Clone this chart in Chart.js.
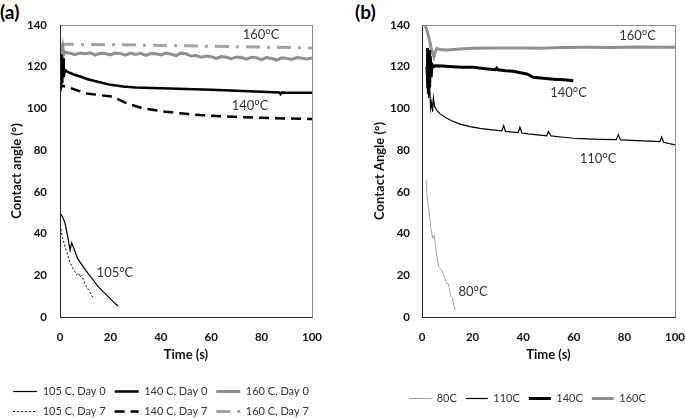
<!DOCTYPE html>
<html>
<head>
<meta charset="utf-8">
<script src="https://cdn.jsdelivr.net/npm/chart.js@4.4.1/dist/chart.umd.min.js"></script>
<style>
  html, body { margin: 0; padding: 0; background: #fff; }
  body { width: 685px; height: 418px; position: relative; overflow: hidden; font-family: Lato, sans-serif; }
  canvas { position: absolute; top: 0; }
  .panel { position: absolute; top: 0; font: bold 19px Lato, sans-serif; color: #000; line-height: 24px; }
</style>
</head>
<body>
<div class="panel" style="left:0">(a)</div>
<div class="panel" style="left:355px">(b)</div>
<canvas id="chartA" width="322" height="427" style="left:0"></canvas>
<canvas id="chartB" width="315" height="414" style="left:370px"></canvas>
<script>
// ---- panel (a): different drying temperatures, day 0 vs day 7 ----
const a105d0T = [0, 1, 2, 3, 4, 4.6, 5.5, 7, 9, 11, 13, 15, 17, 19, 21, 23];
const a105d0Y = [50, 48, 45, 39, 32, 35.6, 33, 28, 24.5, 21, 18, 14.8, 12.3, 10, 7.5, 5.3];
const a105d7T = [0, 1, 2, 3, 4, 5, 6, 6.6, 7.4, 7.9, 8.5, 9.3, 10.5, 11.8, 13];
const a105d7Y = [44, 38, 33.7, 30, 26, 23.5, 21.5, 20.1, 21, 19.2, 19.8, 17.7, 14.5, 12, 9.4];
const a140d0T = [0.3, 0.6, 0.9, 1.2, 1.5, 2, 3, 5, 8, 11, 15, 20, 25, 30, 40, 50, 60, 70, 80, 87, 87.5, 88, 90, 100];
const a140d0Y = [110, 126, 112, 124, 115, 118.5, 117.5, 116.5, 115.3, 114, 112.8, 111.3, 110.5, 110, 109.7, 109.3, 109, 108.5, 108, 107.6, 106.8, 107.6, 107.5, 107.5];
const a140d7T = [0, 0.7, 2.6, 6, 10.6, 15, 21, 26.5, 33, 42, 50, 55.6, 68.8, 80, 90, 100];
const a140d7Y = [108, 111, 110.3, 109, 107.2, 106.5, 105.6, 102.4, 100, 98.4, 97.4, 96.8, 96, 95.5, 95.2, 94.9];
const a160d0T = [0, 0.4, 0.8, 1.2, 1.6, 2, 4, 6, 8, 10, 12, 14, 16, 18, 20, 22, 24, 26, 28, 30, 32, 34, 36, 38, 40,
  42, 44, 46, 48, 50, 52, 54, 56, 58, 60, 62, 64, 66, 68, 70, 72, 74, 76, 78, 80, 82, 84, 86, 88, 90, 92, 94, 96, 98, 100];
const a160d0Y = [125, 131, 124, 129, 126, 127, 126.5, 125.8, 126.6, 126.2, 126.7, 125.6, 126.5, 126.3, 125.7, 126.6, 126.4, 125.5, 126.5, 125.9, 126.4, 125.4, 126.3, 126.2, 125.6,
  126.4, 126.1, 125.3, 126.5, 126.2, 125.1, 125.4, 124.6, 125.1, 124.8, 124.0, 124.9, 124.5, 123.8, 124.7, 124.4, 123.6, 124.5, 124.3, 123.4, 124.4, 123.9, 123.2, 124.3, 124.0, 123.5, 124.4, 124.1, 123.7, 124.2];
const a160d7T = [0, 30, 60, 100];
const a160d7Y = [130.8, 130.4, 129.8, 129.0];

// ---- panel (b): temperatures ----
const b80T = [1.6, 2.1, 2.9, 3.4, 4.2, 4.9, 5.5, 6.6, 7.8, 9.8, 10.4, 10.8, 11.3, 12, 13];
const b80Y = [65.7, 56, 49.7, 43.3, 37.7, 39.3, 32.1, 24.1, 22.5, 16.1, 16, 14, 9.8, 9, 3.4];
const b110T = [1.6, 2.0, 2.3, 2.6, 3.0, 3.4, 3.8, 4.2, 4.5, 5, 5.8, 7, 9.8, 12, 15, 19, 22.9, 27, 31.5, 32.3, 33, 35, 38,
  38.7, 39.5, 42, 46.6, 49.3, 50, 51, 55, 59.8, 65, 70, 76.8, 77.6, 78.5, 85, 90, 94, 94.7, 95.5, 100];
const b110Y = [120, 110, 118, 105, 112, 100, 103, 98.4, 105, 101, 99.2, 97.5, 95.3, 94, 92.5, 91.3, 90.4, 89.8, 89.2, 91.8, 89, 88.8, 88.4,
  91, 88.2, 87.8, 87.2, 86.9, 89, 86.8, 86.3, 85.7, 85.4, 85.2, 85.0, 87.5, 84.9, 84.6, 84.3, 84.1, 86.3, 83.8, 82.5];
const b140T = [2.0, 2.2, 2.5, 2.8, 3.0, 3.3, 3.6, 4.0, 4.5, 5.1, 8, 12, 16, 20.3, 25, 29, 29.5, 30, 33, 36, 41.4, 44, 48, 52, 56, 59.8];
const b140Y = [120, 129, 107, 128, 110, 125, 115, 121, 120, 120.5, 120.3, 120, 119.8, 119.7, 119, 118.6, 119.3, 118.5, 118.1, 117.8, 116.5, 114.9, 114.5, 114, 113.7, 113.3];
const b160T = [1.0, 2.5, 3.8, 4.7, 5.2, 5.8, 7, 9.8, 15, 20, 30, 40, 46.6, 55, 65, 75, 85, 95, 100];
const b160Y = [141, 135.2, 128, 124.8, 127, 128.8, 128.3, 128, 128.5, 128.8, 129, 129, 128.8, 129.2, 129.3, 129.2, 129.4, 129.3, 129.3];

const yTicks = [0, 20, 40, 60, 80, 100, 120, 140];
const xTicks = [0, 20, 40, 60, 80, 100];

const labelsA = [
  { text: '160°C', x: 79.8, y: 135.2 },
  { text: '140°C', x: 75.4, y: 101.2 },
  { text: '105°C', x: 21.8, y: 21.1 }
];
const labelsB = [
  { text: '160°C', x: 85.2, y: 134.7 },
  { text: '140°C', x: 57.9, y: 107.4 },
  { text: '110°C', x: 69.6, y: 75.7 },
  { text: '80°C', x: 20.2, y: 12 }
];

function pts(ts, ys) {
  return ts.map((t, i) => ({ x: t, y: ys[i] }));
}

// frame round the plot area + temperature labels
const framePlugin = {
  id: 'frame',
  afterDatasetsDraw(chart, args, opts) {
    const { ctx, chartArea: a, scales } = chart;
    ctx.save();
    ctx.lineWidth = 1;
    ctx.strokeStyle = '#8c8c8c';
    ctx.strokeRect(a.left + 0.5, a.top + 0.5, a.right - a.left, a.bottom - a.top);
    ctx.strokeStyle = '#222';
    ctx.beginPath();
    ctx.moveTo(a.left + 0.5, a.top);
    ctx.lineTo(a.left + 0.5, a.bottom + 0.5);
    ctx.lineTo(a.right + 0.5, a.bottom + 0.5);
    ctx.stroke();
    ctx.font = '13px Lato';
    ctx.fillStyle = '#333';
    ctx.textAlign = 'center';
    ctx.textBaseline = 'middle';
    (opts.items || []).forEach(l => {
      ctx.fillText(l.text, scales.x.getPixelForValue(l.x), scales.y.getPixelForValue(l.y));
    });
    ctx.restore();
  }
};

function makeOptions(cfg) {
  return {
    responsive: false,
    animation: false,
    layout: { padding: { top: 25, left: 0, right: 0, bottom: 0 } },
    elements: { point: { radius: 0 }, line: { tension: 0 } },
    plugins: {
      frame: { items: cfg.items },
      tooltip: { enabled: false },
      legend: {
        position: 'bottom',
        labels: {
          usePointStyle: true,
          pointStyleWidth: cfg.swatch,
          padding: 9,
          color: '#333',
          font: { family: 'Lato', size: 11 },
          generateLabels: chart => chart.data.datasets.map((ds, i) => ({
            text: ds.label,
            fillStyle: 'transparent',
            strokeStyle: ds.borderColor,
            lineWidth: ds.borderWidth,
            lineDash: ds.borderDash || [],
            lineCap: 'butt',
            pointStyle: 'line',
            fontColor: '#333',
            hidden: false,
            datasetIndex: i
          }))
        }
      }
    },
    scales: {
      x: {
        type: 'linear',
        min: 0, max: 100,
        grid: { display: false, drawTicks: false },
        border: { display: false },
        afterBuildTicks: s => { s.ticks = xTicks.map(v => ({ value: v })); },
        afterFit: s => { s.height = cfg.xHeight; s.paddingRight = 10; s.paddingLeft = 0; },
        ticks: { padding: 13, color: '#111', font: { family: 'Lato', size: 11.5, weight: 'bold' } },
        title: {
          display: true, text: 'Time (s)', color: '#111',
          font: { family: 'Lato', size: 13, weight: 'bold' },
          padding: { top: 0, bottom: cfg.xTitlePad }
        }
      },
      y: {
        min: 0, max: 140,
        grid: { display: false, drawTicks: false },
        border: { display: false },
        afterBuildTicks: s => { s.ticks = yTicks.map(v => ({ value: v })); },
        afterFit: s => { s.width = cfg.yWidth; },
        ticks: { padding: cfg.yTickPad, color: '#111', font: { family: 'Lato', size: 11.5, weight: 'bold' } },
        title: {
          display: true, text: cfg.yTitle, color: '#111',
          font: { family: 'Lato', size: 13, weight: 'bold' },
          padding: { top: cfg.yTitlePad, bottom: 0 }
        }
      }
    }
  };
}

new Chart(document.getElementById('chartA'), {
  type: 'line',
  data: {
    datasets: [
      { label: '105 C, Day 0', data: pts(a105d0T, a105d0Y), borderColor: '#000', borderWidth: 1.2 },
      { label: '140 C, Day 0', data: pts(a140d0T, a140d0Y), borderColor: '#000', borderWidth: 2.5 },
      { label: '160 C, Day 0', data: pts(a160d0T, a160d0Y), borderColor: '#8f8f8f', borderWidth: 3 },
      { label: '105 C, Day 7', data: pts(a105d7T, a105d7Y), borderColor: '#000', borderWidth: 1, borderDash: [2, 2] },
      { label: '140 C, Day 7', data: pts(a140d7T, a140d7Y), borderColor: '#000', borderWidth: 2.5, borderDash: [10, 6] },
      { label: '160 C, Day 7', data: pts(a160d7T, a160d7Y), borderColor: '#a3a3a3', borderWidth: 3, borderDash: [14, 7, 3, 7] }
    ]
  },
  options: makeOptions({
    items: labelsA, swatch: 24, xHeight: 60, xTitlePad: 14,
    yWidth: 60, yTickPad: 13, yTitlePad: 9, yTitle: 'Contact angle (°)'
  }),
  plugins: [framePlugin]
});

new Chart(document.getElementById('chartB'), {
  type: 'line',
  data: {
    datasets: [
      { label: '80C', data: pts(b80T, b80Y), borderColor: '#a0a0a0', borderWidth: 1 },
      { label: '110C', data: pts(b110T, b110Y), borderColor: '#000', borderWidth: 1.2 },
      { label: '140C', data: pts(b140T, b140Y), borderColor: '#000', borderWidth: 3 },
      { label: '160C', data: pts(b160T, b160Y), borderColor: '#8f8f8f', borderWidth: 3 }
    ]
  },
  options: makeOptions({
    items: labelsB, swatch: 22, xHeight: 67, xTitlePad: 21,
    yWidth: 52, yTickPad: 12, yTitlePad: 2, yTitle: 'Contact Angle (°)'
  }),
  plugins: [framePlugin]
});
</script>
</body>
</html>
